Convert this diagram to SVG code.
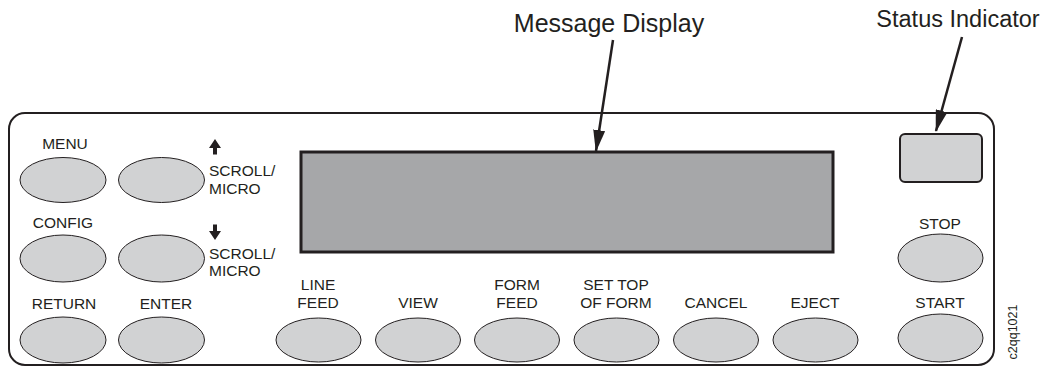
<svg xmlns="http://www.w3.org/2000/svg" width="1045" height="367" viewBox="0 0 1045 367">
<style>
.btn{fill:#d1d2d3;stroke:#231f20;stroke-width:1}
.lbl{font-family:"Liberation Sans",Arial,sans-serif;font-size:15.5px;fill:#231f20;text-anchor:middle}
.lbll{font-family:"Liberation Sans",Arial,sans-serif;font-size:15.5px;fill:#231f20}
.big{font-family:"Liberation Sans",Arial,sans-serif;fill:#231f20;text-anchor:middle}
.lead{stroke:#231f20;stroke-width:2.5;fill:none}
</style>
<defs>
<marker id="ah" viewBox="0 0 22 12" refX="21" refY="6" markerWidth="22" markerHeight="12" orient="auto" markerUnits="userSpaceOnUse">
<path d="M0,0 L22,6 L0,12 z" fill="#231f20"/>
</marker>
</defs>
<rect id="panel" x="9" y="113" width="985" height="252" rx="16" fill="#fff" stroke="#231f20" stroke-width="2"/>
<g id="message-display"><rect x="301" y="152" width="532" height="100" fill="#a6a7a9" stroke="#231f20" stroke-width="3"/></g>
<g id="status-indicator"><rect x="900" y="134" width="82" height="48" rx="5" fill="#d1d2d3" stroke="#231f20" stroke-width="2"/></g>
<g id="menu"><ellipse class="btn" cx="63" cy="180" rx="43" ry="22.5"/><text class="lbl" x="65" y="148.5">MENU</text></g>
<g id="scroll-up"><ellipse class="btn" cx="161.5" cy="180" rx="43" ry="22.5"/>
<path d="M215,139 L221,148 L217,148 L217,154.5 L213,154.5 L213,148 L209,148 z" fill="#231f20"/>
<text class="lbll" x="209" y="175.5">SCROLL/</text><text class="lbll" x="209" y="193.5">MICRO</text></g>
<g id="config"><ellipse class="btn" cx="63" cy="258.5" rx="43" ry="23.5"/><text class="lbl" x="63" y="227.5">CONFIG</text></g>
<g id="scroll-down"><ellipse class="btn" cx="161.5" cy="258.5" rx="43" ry="23.5"/>
<path d="M215,240 L221,231 L217,231 L217,224.5 L213,224.5 L213,231 L209,231 z" fill="#231f20"/>
<text class="lbll" x="209" y="258.5">SCROLL/</text><text class="lbll" x="209" y="275.5">MICRO</text></g>
<g id="return"><ellipse class="btn" cx="63" cy="340" rx="43" ry="23"/><text class="lbl" x="64" y="308.5">RETURN</text></g>
<g id="enter"><ellipse class="btn" cx="161.5" cy="340" rx="43" ry="23"/><text class="lbl" x="166" y="308.5">ENTER</text></g>
<g id="line-feed"><ellipse class="btn" cx="318.5" cy="340" rx="42.5" ry="22"/><text class="lbl" x="318" y="289.5">LINE</text><text class="lbl" x="318" y="307.5">FEED</text></g>
<g id="view"><ellipse class="btn" cx="418" cy="340" rx="42.5" ry="22"/><text class="lbl" x="418" y="307.5">VIEW</text></g>
<g id="form-feed"><ellipse class="btn" cx="517" cy="340" rx="42.5" ry="22"/><text class="lbl" x="517" y="289.5">FORM</text><text class="lbl" x="517" y="307.5">FEED</text></g>
<g id="set-top"><ellipse class="btn" cx="616.5" cy="340" rx="42.5" ry="22"/><text class="lbl" x="616" y="289.5">SET TOP</text><text class="lbl" x="616" y="307.5">OF FORM</text></g>
<g id="cancel"><ellipse class="btn" cx="716" cy="340" rx="42.5" ry="22"/><text class="lbl" x="716" y="307.5">CANCEL</text></g>
<g id="eject"><ellipse class="btn" cx="815.5" cy="340" rx="42.5" ry="22"/><text class="lbl" x="815" y="307.5">EJECT</text></g>
<g id="stop"><ellipse class="btn" cx="940.5" cy="258" rx="42.5" ry="24"/><text class="lbl" x="940" y="228.5">STOP</text></g>
<g id="start"><ellipse class="btn" cx="940.5" cy="338" rx="42.5" ry="24"/><text class="lbl" x="940" y="307.5">START</text></g>
<g id="callouts">
<text class="big" x="609" y="32" font-size="25">Message Display</text>
<text class="big" x="958" y="27" font-size="23.5">Status Indicator</text>
</g>
<g id="connectors">
<line class="lead" x1="613" y1="40" x2="596" y2="151" marker-end="url(#ah)"/>
<line class="lead" x1="962" y1="37" x2="936" y2="131" marker-end="url(#ah)"/>
</g>
<text font-family="'Liberation Sans',Arial,sans-serif" font-size="12.5" fill="#231f20" text-anchor="middle" transform="translate(1017,332) rotate(-90)">c2qq1021</text>
</svg>
